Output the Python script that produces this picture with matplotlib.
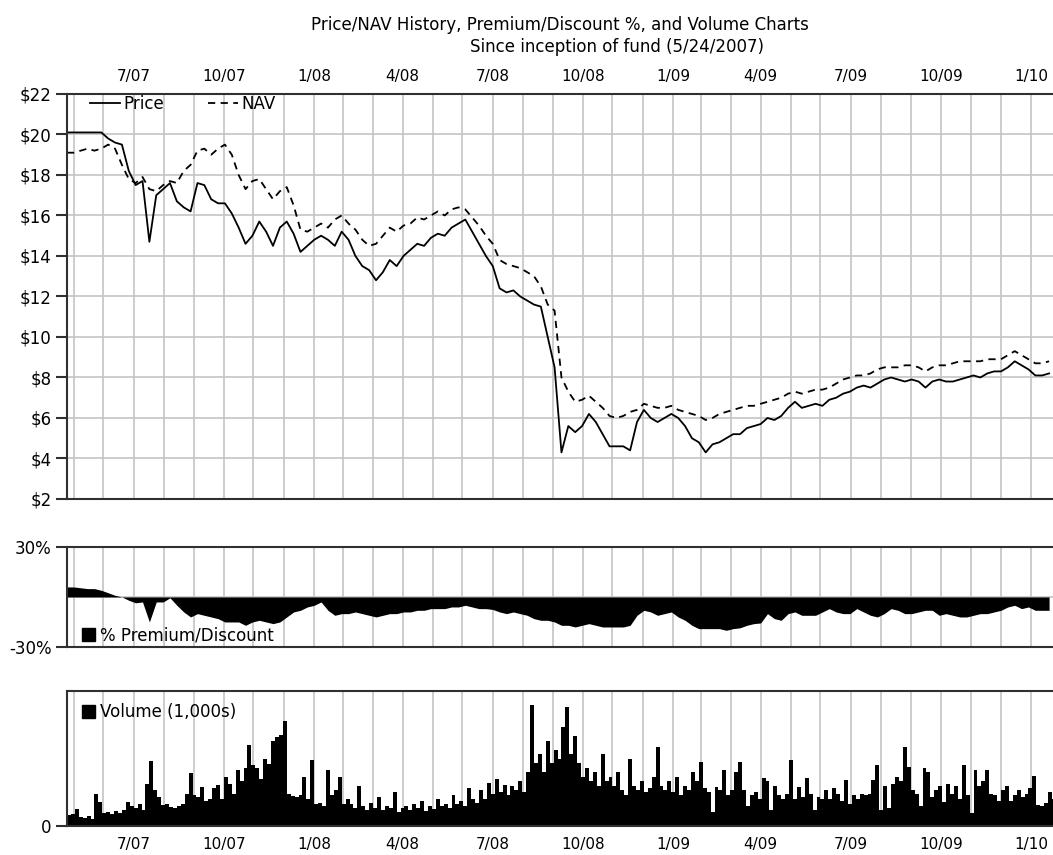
import pandas as pd
import matplotlib
matplotlib.use("Agg")
import matplotlib.pyplot as plt
from matplotlib.lines import Line2D
from matplotlib.patches import Patch

# weekly closes from inception (5/24/2007)
week_start = "2007-05-24"
price = [
    20.1, 20.1, 20.1, 20.1, 20.1, 20.1,
    19.8, 19.6, 19.5, 18.2, 17.5, 17.7,
    14.7, 17.0, 17.3, 17.6, 16.7, 16.4,
    16.2, 17.6, 17.5, 16.8, 16.6, 16.6,
    16.1, 15.4, 14.6, 15.0, 15.7, 15.2,
    14.5, 15.4, 15.7, 15.1, 14.2, 14.5,
    14.8, 15.0, 14.8, 14.5, 15.2, 14.8,
    14.0, 13.5, 13.3, 12.8, 13.2, 13.8,
    13.5, 14.0, 14.3, 14.6, 14.5, 14.9,
    15.1, 15.0, 15.4, 15.6, 15.8, 15.2,
    14.6, 14.0, 13.5, 12.4, 12.2, 12.3,
    12.0, 11.8, 11.6, 11.5, 10.0, 8.5,
    4.3, 5.6, 5.3, 5.6, 6.2, 5.8,
    5.2, 4.6, 4.6, 4.6, 4.4, 5.8,
    6.4, 6.0, 5.8, 6.0, 6.2, 6.0,
    5.6, 5.0, 4.8, 4.3, 4.7, 4.8,
    5.0, 5.2, 5.2, 5.5, 5.6, 5.7,
    6.0, 5.9, 6.1, 6.5, 6.8, 6.5,
    6.6, 6.7, 6.6, 6.9, 7.0, 7.2,
    7.3, 7.5, 7.6, 7.5, 7.7, 7.9,
    8.0, 7.9, 7.8, 7.9, 7.8, 7.5,
    7.8, 7.9, 7.8, 7.8, 7.9, 8.0,
    8.1, 8.0, 8.2, 8.3, 8.3, 8.5,
    8.8, 8.6, 8.4, 8.1, 8.1, 8.2,
]
nav = [
    19.1, 19.1, 19.2, 19.3, 19.2, 19.3,
    19.5, 19.3, 18.5, 17.8, 17.6, 17.9,
    17.3, 17.2, 17.5, 17.7, 17.6, 18.2,
    18.5, 19.2, 19.3, 19.0, 19.3, 19.5,
    19.0, 18.0, 17.3, 17.7, 17.8, 17.3,
    16.8, 17.2, 17.4, 16.5, 15.3, 15.2,
    15.4, 15.6, 15.4, 15.8, 16.0, 15.6,
    15.3, 14.8, 14.5, 14.6, 15.0, 15.4,
    15.2, 15.5, 15.6, 15.9, 15.8, 16.0,
    16.2, 16.0, 16.3, 16.4, 16.3, 15.9,
    15.5, 15.0, 14.6, 13.8, 13.6, 13.5,
    13.4, 13.2, 13.0, 12.5, 11.6, 11.3,
    8.0, 7.3, 6.8, 6.9, 7.1, 6.8,
    6.5, 6.1, 6.0, 6.1, 6.3, 6.4,
    6.7, 6.6, 6.5, 6.5, 6.6, 6.4,
    6.3, 6.2, 6.1, 5.9, 6.0, 6.2,
    6.3, 6.4, 6.5, 6.6, 6.6, 6.7,
    6.8, 6.9, 7.0, 7.2, 7.3, 7.2,
    7.3, 7.4, 7.4, 7.5, 7.7, 7.9,
    8.0, 8.1, 8.1, 8.2, 8.4, 8.5,
    8.5, 8.5, 8.6, 8.6, 8.5, 8.3,
    8.5, 8.6, 8.6, 8.7, 8.8, 8.8,
    8.8, 8.8, 8.9, 8.9, 8.9, 9.1,
    9.3, 9.1, 8.9, 8.7, 8.7, 8.8,
]
premium = [
    6, 6, 5.5, 5, 5, 4,
    2.5, 1, 0, -2, -3.5, -3,
    -15, -3, -3, -0.5, -5, -9,
    -12, -10, -11, -12, -13, -15,
    -15, -15, -17, -15, -14, -15,
    -16, -15, -12, -9, -8, -6,
    -5, -3, -8, -11, -10, -10,
    -9, -10, -11, -12, -11, -10,
    -10, -9, -9, -8, -8, -7,
    -7, -7, -6, -6, -5, -6,
    -7, -7, -7.5, -9, -10, -9,
    -10, -11, -13, -14, -14, -15,
    -17, -17, -18, -17, -16, -17,
    -18, -18, -18, -18, -17, -11,
    -8, -9, -11, -10, -9, -12,
    -14, -17, -19, -19, -19, -19,
    -20, -19, -18.5, -17, -16, -15.6,
    -10, -13, -14, -10, -9, -11,
    -11, -11, -9, -7, -9, -10,
    -10, -7, -9, -11, -12, -10,
    -7, -8, -10, -10, -9, -8,
    -8, -11, -10, -11, -12, -12,
    -11, -10, -10, -9, -8, -6,
    -5, -7, -6, -8, -8, -8,
]

# volume in thousands, one value per 4 days
vol_step_days = 4
volume = [
    12, 13, 19, 10, 9, 11, 8, 36, 27, 14, 16, 13,
    17, 14, 18, 27, 22, 20, 24, 18, 47, 72, 40, 32,
    23, 24, 21, 20, 22, 24, 36, 59, 34, 32, 43, 28,
    30, 42, 46, 30, 55, 47, 36, 62, 50, 64, 90, 68,
    64, 52, 75, 69, 94, 99, 101, 117, 36, 33, 32, 34,
    55, 30, 73, 25, 26, 22, 62, 35, 40, 55, 25, 30,
    24, 20, 45, 22, 18, 26, 20, 32, 18, 22, 20, 38,
    16, 20, 22, 18, 24, 20, 28, 17, 22, 19, 30, 22,
    25, 20, 35, 24, 28, 22, 42, 30, 26, 40, 30, 48,
    36, 52, 38, 46, 34, 44, 40, 50, 38, 60, 135, 70,
    80, 60, 95, 70, 85, 75, 110, 132, 80, 100, 70, 55,
    65, 50, 60, 45, 80, 50, 55, 45, 60, 40, 35, 75,
    45, 40, 50, 38, 42, 55, 88, 45, 40, 50, 38, 55,
    35, 45, 40, 60, 50, 71, 42, 38, 16, 43, 40, 62,
    35, 40, 60, 71, 40, 22, 35, 38, 30, 53, 50, 18,
    45, 35, 30, 36, 73, 30, 43, 32, 53, 36, 18, 32,
    30, 40, 30, 42, 36, 28, 51, 25, 34, 30, 36, 35,
    36, 51, 68, 18, 45, 20, 47, 55, 50, 88, 66, 40,
    36, 22, 64, 60, 32, 40, 45, 27, 47, 36, 45, 30,
    68, 35, 14, 62, 45, 50, 62, 36, 35, 28, 40, 45,
    28, 35, 40, 32, 36, 42, 56, 23, 22, 26, 38, 30,
]

tick_dates = ["2007-07-31", "2007-10-31", "2008-01-31", "2008-04-30",
              "2008-07-31", "2008-10-31", "2009-01-31", "2009-04-30",
              "2009-07-31", "2009-10-31", "2010-01-31"]
tick_labels = ["7/07", "10/07", "1/08", "4/08", "7/08", "10/08",
               "1/09", "4/09", "7/09", "10/09", "1/10"]

x_start = pd.Timestamp("2007-05-24")
x_end = pd.Timestamp("2010-02-22")

weeks = pd.date_range(week_start, periods=len(price), freq="7D")
vol_days = pd.date_range(week_start, periods=len(volume), freq=f"{vol_step_days}D")
month_ends = pd.date_range("2007-05-31", "2010-01-31", freq="ME")

DARK = "#303030"
GRID = "#c4c4c4"
FS = 12

plt.rcParams["font.family"] = "DejaVu Sans"

fig = plt.figure(figsize=(10.53, 8.55), dpi=100)
ax1 = fig.add_axes([0.0636, 0.4164, 0.9364, 0.4737])
ax2 = fig.add_axes([0.0636, 0.2433, 0.9364, 0.1170])
ax3 = fig.add_axes([0.0636, 0.0339, 0.9364, 0.1579])


def style(ax):
    for side in ("top", "bottom", "left"):
        ax.spines[side].set_color(DARK)
        ax.spines[side].set_linewidth(1.5)
    ax.spines["right"].set_visible(False)
    ax.set_xlim(x_start, x_end)
    ax.set_xticks(month_ends)
    lab = dict(zip(pd.to_datetime(tick_dates), tick_labels))
    ax.set_xticklabels([lab.get(d, "") for d in month_ends])
    ax.grid(True, axis="x", color=GRID, lw=1.2)
    ax.tick_params(axis="x", length=0, labelsize=FS - 1)
    ax.tick_params(axis="y", length=8, width=1.5, color=DARK, pad=3, labelsize=FS)
    ax.set_axisbelow(True)


# price / NAV
style(ax1)
ax1.plot(weeks, price, color="black", lw=1.3)
ax1.plot(weeks, nav, color="black", lw=1.3, dashes=(4, 3))
ax1.set_ylim(2, 22)
ax1.set_yticks(range(2, 23, 2))
ax1.set_yticklabels([f"${v}" for v in range(2, 23, 2)])
ax1.grid(True, axis="y", color=GRID, lw=1.2)
ax1.xaxis.tick_top()
ax1.tick_params(axis="x", pad=7)
ax1.legend(handles=[Line2D([], [], color="black", lw=1.3),
                    Line2D([], [], color="black", lw=1.3, dashes=(4, 3))],
           labels=["Price", "NAV"], loc="upper left", ncol=2, frameon=False,
           fontsize=FS, handlelength=1.8, handletextpad=0.2, columnspacing=2.6,
           bbox_to_anchor=(0.017, 1.015), borderaxespad=0)

# premium / discount
style(ax2)
ax2.fill_between(weeks, 0, premium, color="black", lw=0)
ax2.axhline(0, color=GRID, lw=1.2, zorder=0)
ax2.set_ylim(-30, 30)
ax2.set_yticks([-30, 30])
ax2.set_yticklabels(["-30%", "30%"])
ax2.tick_params(axis="x", labelbottom=False)
ax2.legend(handles=[Patch(color="black")], labels=["% Premium/Discount"],
           loc="lower left", frameon=False, fontsize=FS, handlelength=0.8,
           handleheight=0.8, handletextpad=0.3,
           bbox_to_anchor=(0.008, -0.04), borderaxespad=0)

# volume
style(ax3)
ax3.bar(vol_days, volume, width=vol_step_days, align="edge", color="black", lw=0)
ax3.set_ylim(0, 150)
ax3.set_yticks([0])
ax3.tick_params(axis="x", pad=8)
ax3.legend(handles=[Patch(color="black")], labels=["Volume (1,000s)"],
           loc="upper left", frameon=False, fontsize=FS, handlelength=0.8,
           handleheight=0.8, handletextpad=0.3,
           bbox_to_anchor=(0.008, 0.96), borderaxespad=0)

fig.text(0.532, 1 - 25 / 855, "Price/NAV History, Premium/Discount %, and Volume Charts",
         ha="center", va="center", fontsize=FS)
fig.text(0.586, 1 - 47 / 855, "Since inception of fund (5/24/2007)",
         ha="center", va="center", fontsize=FS)

fig.savefig("out.png", dpi=100)
